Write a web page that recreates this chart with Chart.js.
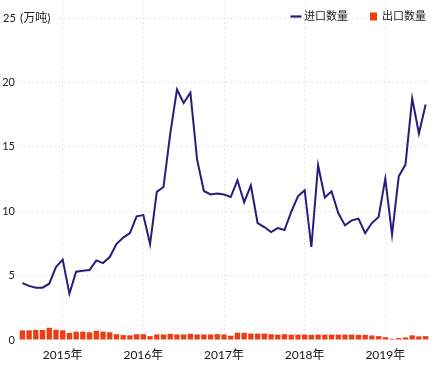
<!DOCTYPE html>
<html>
<head>
<meta charset="utf-8">
<script src="https://cdn.jsdelivr.net/npm/chart.js@4.4.1/dist/chart.umd.min.js"></script>
<style>
html,body{margin:0;padding:0;background:#fff;}
#wrap{width:437px;height:372px;position:relative;}
</style>
</head>
<body>
<div id="wrap"><canvas id="c"></canvas></div>
<script>
const months = ['2014-07','2014-08','2014-09','2014-10','2014-11','2014-12',
'2015-01','2015-02','2015-03','2015-04','2015-05','2015-06','2015-07','2015-08','2015-09','2015-10','2015-11','2015-12',
'2016-01','2016-02','2016-03','2016-04','2016-05','2016-06','2016-07','2016-08','2016-09','2016-10','2016-11','2016-12',
'2017-01','2017-02','2017-03','2017-04','2017-05','2017-06','2017-07','2017-08','2017-09','2017-10','2017-11','2017-12',
'2018-01','2018-02','2018-03','2018-04','2018-05','2018-06','2018-07','2018-08','2018-09','2018-10','2018-11','2018-12',
'2019-01','2019-02','2019-03','2019-04','2019-05','2019-06','2019-07'];
const importQty = [4.42,4.2,4.06,4.06,4.37,5.66,6.24,3.59,5.3,5.38,
5.43,6.18,5.97,6.44,7.45,7.95,8.3,9.6,9.7,7.45,
11.5,11.88,16.0,19.45,18.4,19.2,14.0,11.57,11.3,11.37,
11.29,11.1,12.4,10.7,12.0,9.08,8.77,8.38,8.69,8.54,
9.94,11.16,11.63,7.22,13.57,11.06,11.55,9.86,8.9,9.29,
9.42,8.3,9.08,9.55,12.53,8.18,12.71,13.62,18.76,16.03,18.29];
const exportQty = [0.75,0.75,0.78,0.78,0.95,0.8,0.75,0.55,0.65,0.65,
0.6,0.72,0.65,0.6,0.45,0.38,0.36,0.45,0.45,0.3,
0.43,0.43,0.48,0.43,0.43,0.48,0.43,0.43,0.43,0.45,0.43,0.33,0.56,0.56,0.5,0.5,0.5,0.45,
0.42,0.45,0.42,0.42,0.42,0.4,0.42,0.42,0.42,0.42,0.42,0.42,0.4,0.4,
0.35,0.3,0.22,0.1,0.15,0.2,0.36,0.28,0.3];
const yTicks = [0,5,10,15,20,25];
const seriesNames = ['进口数量','出口数量'];
const unitLabel = '(万吨)';

const LINE_COLOR = '#2c1a7c';
const BAR_COLOR = '#ee3d12';
const FONT = "Lato, 'Noto Sans CJK SC', sans-serif";
const GRID = '#dcdcdc';

const extras = {
  id:'extras',
  beforeDatasetsDraw(chart){
    const ctx = chart.ctx, x = chart.scales.x, ca = chart.chartArea;
    ctx.save();
    ctx.strokeStyle = GRID; ctx.lineWidth = 1; ctx.setLineDash([1.5,3]);
    months.forEach((m,i)=>{
      if(m.endsWith('-01')){
        const px = Math.round(x.getPixelForValue(i))+0.5;
        ctx.beginPath(); ctx.moveTo(px,4); ctx.lineTo(px,ca.top); ctx.stroke();
      }
    });
    ctx.restore();
  },
  afterDraw(chart){
    const ctx = chart.ctx, y = chart.scales.y;
    const top = y.getPixelForValue(25);
    ctx.save();
    ctx.fillStyle = '#fff';
    ctx.fillRect(0, top-7, 57, 14);
    ctx.fillStyle = '#222';
    ctx.textBaseline = 'middle';
    ctx.textAlign = 'left';
    ctx.font = "11px " + FONT;
    ctx.fillText('25', 3, top);
    ctx.font = "12px " + FONT;
    ctx.fillText(unitLabel, 20, top);
    // legend
    ctx.font = "11px " + FONT;
    const ly = 16.5;
    ctx.strokeStyle = LINE_COLOR; ctx.lineWidth = 2.2;
    ctx.beginPath(); ctx.moveTo(290.5, ly); ctx.lineTo(301.5, ly); ctx.stroke();
    ctx.fillText(seriesNames[0], 304, ly);
    ctx.fillStyle = BAR_COLOR;
    ctx.fillRect(370, 12.5, 7, 8);
    ctx.fillStyle = '#222';
    ctx.fillText(seriesNames[1], 382, ly);
    ctx.restore();
  }
};

new Chart(document.getElementById('c'), {
  data: {
    labels: months,
    datasets: [
      {type:'line', label: seriesNames[0], data: importQty, borderColor: LINE_COLOR, borderWidth: 2,
       pointRadius: 0, tension: 0, fill:false, order: 0},
      {type:'bar', label: seriesNames[1], data: exportQty, backgroundColor: BAR_COLOR,
       barPercentage: 0.8, categoryPercentage: 1.0, order: 1}
    ]
  },
  options: {
    responsive: true, maintainAspectRatio: false, animation: false,
    layout: {padding: {top: 18, right: 8, left: 0, bottom: 0}},
    plugins: {legend: {display: false}, tooltip: {enabled: false}},
    scales: {
      x: {
        type: 'category', offset: true,
        grid: {offset: false, drawTicks: false, lineWidth: 1,
          color: (c)=> (c.tick && months[c.index] && months[c.index].endsWith('-01')) ? GRID : 'rgba(0,0,0,0)'},
        border: {display: false, dash: [1.5,3]},
        ticks: {autoSkip: false, maxRotation: 0, minRotation: 0, padding: 8,
          color: '#111', font: {family: FONT, size: 12},
          callback: (v,i)=> months[i].endsWith('-01') ? months[i].slice(0,4) + '年' : ''},
        afterFit: (s)=>{ s.height = 32; }
      },
      y: {
        min: 0, max: 25,
        afterBuildTicks: (s)=>{ s.ticks = yTicks.map(v=>({value:v})); },
        grid: {drawTicks: false, color: (c)=> c.tick && c.tick.value === 0 ? 'rgba(0,0,0,0)' : GRID},
        border: {display: false, dash: [1.5,3]},
        ticks: {padding: 4, color: '#222', font: {family: FONT, size: 11},
          callback: (v)=> v === 25 ? '' : String(v)},
        afterFit: (s)=>{ s.width = 19; }
      }
    }
  },
  plugins: [extras]
});
</script>
</body>
</html>
